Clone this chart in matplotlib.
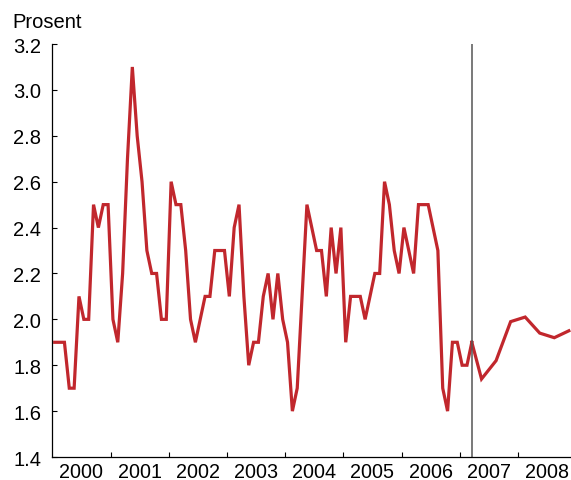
import numpy as np
import matplotlib
matplotlib.use("Agg")
from matplotlib import pyplot as plt

plt.rcParams['font.family'] = ['Liberation Sans', 'DejaVu Sans']

# monthly observations, Jan 2000 - Mar 2007
monthly = [1.9, 1.9, 1.9, 1.7, 1.7, 2.1, 2.0, 2.0, 2.5, 2.4, 2.5, 2.5,
           2.0, 1.9, 2.2, 2.7, 3.1, 2.8, 2.6, 2.3, 2.2, 2.2, 2.0, 2.0,
           2.6, 2.5, 2.5, 2.3, 2.0, 1.9, 2.0, 2.1, 2.1, 2.3, 2.3, 2.3,
           2.1, 2.4, 2.5, 2.1, 1.8, 1.9, 1.9, 2.1, 2.2, 2.0, 2.2, 2.0,
           1.9, 1.6, 1.7, 2.1, 2.5, 2.4, 2.3, 2.3, 2.1, 2.4, 2.2, 2.4,
           1.9, 2.1, 2.1, 2.1, 2.0, 2.1, 2.2, 2.2, 2.6, 2.5, 2.3, 2.2,
           2.4, 2.3, 2.2, 2.5, 2.5, 2.5, 2.4, 2.3, 1.7, 1.6, 1.9, 1.9,
           1.8, 1.8, 1.9]
# quarterly projections, 2007 Q2 - 2008 Q4
quarters = ['2007Q2', '2007Q3', '2007Q4', '2008Q1', '2008Q2', '2008Q3', '2008Q4']
forecast = [1.74, 1.82, 1.99, 2.01, 1.94, 1.92, 1.95]
years = list(range(2000, 2009))

# decimal year, placed mid-period
x_month = 2000 + (np.arange(len(monthly)) + 0.5) / 12
x_quart = np.array([int(q[:4]) + (int(q[-1]) - 0.5) / 4 for q in quarters])
x_cut = 2000 + len(monthly) / 12 - 0.5 / 12

red = '#c1272d'

fig = plt.figure(figsize=(5.71, 4.81), dpi=100)
ax = fig.add_axes([0.0916, 0.0478, 0.9084, 0.8586])

ax.plot(x_month, monthly, color=red, lw=2.3, solid_joinstyle='miter')
ax.plot(np.r_[x_month[-1], x_quart], np.r_[monthly[-1], forecast],
        color=red, lw=2.3, solid_joinstyle='miter')
ax.axvline(x_cut, color='#555555', lw=1.1)

ax.set_xlim(2000, 2000 + 518.7 / 58.2)
ax.set_ylim(1.4, 3.2)
ax.set_yticks(np.arange(1.4, 3.21, 0.2))
ax.set_yticklabels(['%.1f' % v for v in np.arange(1.4, 3.21, 0.2)])

ax.set_xticks(years[1:])
ax.set_xticklabels([])
ax.set_xticks([y + 0.5 for y in years], minor=True)
ax.set_xticklabels([str(y) for y in years], minor=True)
ax.tick_params(axis='x', which='minor', length=0, pad=3.5, labelsize=14.2)
ax.tick_params(axis='x', which='major', direction='in', length=3.5, width=0.8)
ax.tick_params(axis='y', direction='in', length=3.5, width=0.8, pad=8,
               labelsize=14.5)

for s in ['top', 'right']:
    ax.spines[s].set_visible(False)
for s in ['left', 'bottom']:
    ax.spines[s].set_linewidth(0.9)

fig.text(0.021, 0.941, 'Prosent', fontsize=14.5, va='baseline', ha='left')

fig.savefig('out.png', dpi=100)
